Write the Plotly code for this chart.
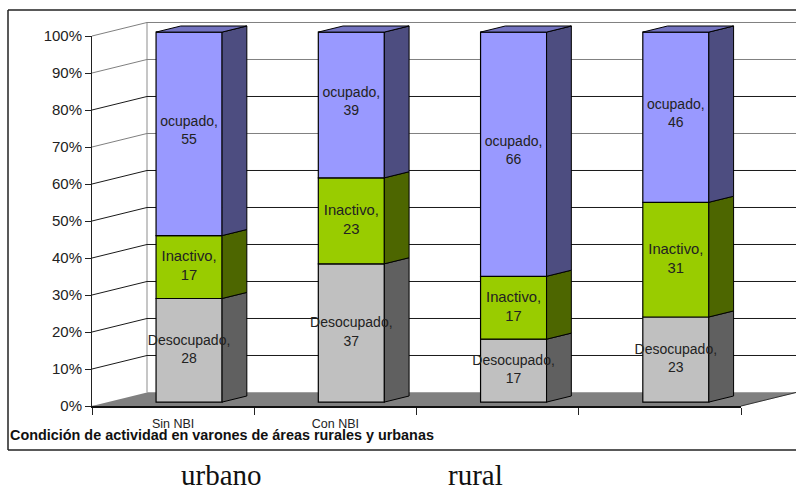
import plotly.graph_objects as go

# ---- data ----
categories = ["Sin NBI", "Con NBI", "", ""]
series_names = ["Desocupado", "Inactivo", "ocupado"]
desocupado = [28, 37, 17, 23]
inactivo = [17, 23, 17, 31]
ocupado = [55, 39, 66, 46]
y_ticks = [0, 10, 20, 30, 40, 50, 60, 70, 80, 90, 100]
front_colors = ["#C0C0C0", "#99CC00", "#9999FF"]
side_colors = ["#606060", "#4D6600", "#4D4D80"]
top_colors = ["#909090", "#739900", "#7373BF"]
label_sizes = [14, 14.8, 14]
label_lift = [0, 0, 0.7]
group_labels = ["urbano", "rural"]

W, H = 796, 486
AX_L, AX_R, AX_T, AX_B = 92, 741, 36, 406      # front plane in pixels
DX, DY = 0.339, 3.65                           # full depth offset (categories, percent)
D0, D1 = 0.29, 0.74                            # depth span of a bar
BAR_W = 0.407

px_per_cat = (AX_R - AX_L) / 4
px_per_pct = (AX_B - AX_T) / 100
full_x = [-AX_L / px_per_cat, (W - AX_L) / px_per_cat]
full_y = [(AX_B - H) / px_per_pct, AX_B / px_per_pct]


def proj(cat, val, d):
    return cat + d * DX, val + d * DY


def pxx(p):
    return (p - AX_L) / px_per_cat


def pxy(p):
    return (AX_B - p) / px_per_pct


fig = go.Figure()


def poly(xs, ys, fill, line="#000000", width=1.0, axes=("x", "y")):
    fig.add_trace(go.Scatter(x=xs, y=ys, mode="lines", fill="toself", fillcolor=fill,
                             line=dict(color=line, width=width), hoverinfo="skip",
                             showlegend=False, xaxis=axes[0], yaxis=axes[1], cliponaxis=False))


def seg(pts, color, width, axes=("x", "y")):
    fig.add_trace(go.Scatter(x=[p[0] for p in pts], y=[p[1] for p in pts], mode="lines",
                             line=dict(color=color, width=width), hoverinfo="skip",
                             showlegend=False, xaxis=axes[0], yaxis=axes[1], cliponaxis=False))


# ---- floor, walls, grid (background subplot) ----
corners = [proj(0, 0, 0), proj(4, 0, 0), proj(4, 0, 1), proj(0, 0, 1)]
poly([c[0] for c in corners], [c[1] for c in corners], "#808080", line="#808080", width=0.5)
seg([proj(0, 0, 1), proj(0, 100, 1)], "#A0A0A0", 1.2)
for t in y_ticks[1:]:
    col = "#808080" if t in (100, 90, 70) else "#1a1a1a"
    seg([proj(0, t, 0), proj(0, t, 1), proj(4, t, 1)], col, 1.0)
seg([proj(4, 0, 0), proj(4, 0, 1)], "#333333", 1.0)

# ---- bars ----
stack = [desocupado, inactivo, ocupado]
totals = [sum(s[i] for s in stack) for i in range(4)]
base = [0.0] * 4
for name, vals, fc, sc, tc, ls, lift in zip(series_names, stack, front_colors, side_colors, top_colors,
                                            label_sizes, label_lift):
    pct = [100 * v / t for v, t in zip(vals, totals)]
    fig.add_trace(go.Bar(
        x=[proj(i + 0.5, 0, D0)[0] for i in range(4)], y=pct,
        base=[b + D0 * DY for b in base], width=BAR_W, name=name,
        marker=dict(color=fc, line=dict(color="#000000", width=1.2)),
        showlegend=False, xaxis="x3", yaxis="y3"))
    for i in range(4):
        c0 = i + 0.5 + BAR_W / 2
        c1 = i + 0.5 - BAR_W / 2
        lo, hi = base[i], base[i] + pct[i]
        pts = [proj(c0, lo, D0), proj(c0, lo, D1), proj(c0, hi, D1), proj(c0, hi, D0), proj(c0, lo, D0)]
        poly([p[0] for p in pts], [p[1] for p in pts], sc, axes=("x3", "y3"))
        if abs(hi - 100) < 1e-6:
            pts = [proj(c1, hi, D0), proj(c0, hi, D0), proj(c0, hi, D1), proj(c1, hi, D1), proj(c1, hi, D0)]
            poly([p[0] for p in pts], [p[1] for p in pts], tc, axes=("x3", "y3"))
    fig.add_trace(go.Scatter(
        x=[proj(i + 0.5, 0, D0)[0] for i in range(4)],
        y=[base[i] + pct[i] / 2 + D0 * DY + lift for i in range(4)],
        mode="text", text=[f"{name},<br>{v}" for v in vals],
        textposition="middle center", textfont=dict(family="Liberation Sans", size=ls, color="#222222"),
        hoverinfo="skip", showlegend=False, xaxis="x3", yaxis="y3", cliponaxis=False))
    base = [b + p for b, p in zip(base, pct)]

# ---- real axes on the front plane ----
fig.add_trace(go.Scatter(x=[0, 4], y=[0, 100], mode="none", hoverinfo="skip",
                         showlegend=False, xaxis="x2", yaxis="y2"))

hidden = dict(visible=False, showgrid=False, zeroline=False, fixedrange=True, automargin=False)
dom_full = dict(domain=[0, 1])
fig.update_layout(
    width=W, height=H, margin=dict(l=0, r=0, t=0, b=0, pad=0),
    paper_bgcolor="#FFFFFF", plot_bgcolor="rgba(0,0,0,0)",
    barmode="overlay", showlegend=False,
    font=dict(family="Liberation Sans", color="#222222"),
    xaxis=dict(range=full_x, **hidden, **dom_full),
    yaxis=dict(range=full_y, **hidden, **dom_full),
    xaxis3=dict(range=full_x, anchor="y3", **hidden, **dom_full),
    yaxis3=dict(range=full_y, anchor="x3", **hidden, **dom_full),
    xaxis2=dict(domain=[AX_L / W, AX_R / W], range=[0, 4], anchor="y2", showgrid=False, zeroline=False,
                automargin=False,
                showline=True, linecolor="#111111", linewidth=2,
                tickmode="array", tickvals=[0.5, 1.5, 2.5, 3.5], ticktext=categories,
                ticks="outside", ticklen=5, tickcolor="rgba(0,0,0,0)",
                tickfont=dict(family="Liberation Sans", size=12.5, color="#222222"),
                minor=dict(tickmode="array", tickvals=[0, 1, 2, 3, 4], ticks="outside", ticklen=7,
                           tickcolor="#222222", tickwidth=1),
                fixedrange=True),
    yaxis2=dict(domain=[(H - AX_B) / H, (H - AX_T) / H], range=[0, 100], anchor="x2", showgrid=False,
                zeroline=False, showline=True, linecolor="#222222", linewidth=1, automargin=False,
                tickmode="array", tickvals=y_ticks, ticktext=[f"{t}%" for t in y_ticks],
                ticks="outside", ticklen=6, tickcolor="#222222",
                tickfont=dict(family="Liberation Sans", size=15, color="#222222"),
                fixedrange=True),
    shapes=[
        dict(type="line", xref="paper", yref="paper", x0=8 / W, x1=8 / W, y0=1 - 10 / H, y1=1 - 450 / H,
             line=dict(color="#222222", width=1.5)),
        dict(type="line", xref="paper", yref="paper", x0=8 / W, x1=1, y0=1 - 10 / H, y1=1 - 10 / H,
             line=dict(color="#222222", width=1.5)),
        dict(type="line", xref="paper", yref="paper", x0=8 / W, x1=1, y0=1 - 450 / H, y1=1 - 450 / H,
             line=dict(color="#222222", width=1.5)),
    ],
    annotations=[
        dict(text="Condición de actividad en varones de áreas rurales y urbanas", xref="x", yref="y",
             x=pxx(8), y=pxy(435), xanchor="left", yanchor="middle", showarrow=False,
             font=dict(family="Liberation Sans", size=14.4, color="#111111", weight="bold")),
        dict(text=group_labels[0], xref="x", yref="y", x=pxx(221), y=pxy(475), xanchor="center",
             yanchor="middle", showarrow=False,
             font=dict(family="Liberation Serif", size=29, color="#111111")),
        dict(text=group_labels[1], xref="x", yref="y", x=pxx(475), y=pxy(475), xanchor="center",
             yanchor="middle", showarrow=False,
             font=dict(family="Liberation Serif", size=29, color="#111111")),
    ],
)

fig.write_html("out.html", config=dict(displayModeBar=False),
               post_script="document.body.style.margin='0';document.body.style.overflow='hidden';")
